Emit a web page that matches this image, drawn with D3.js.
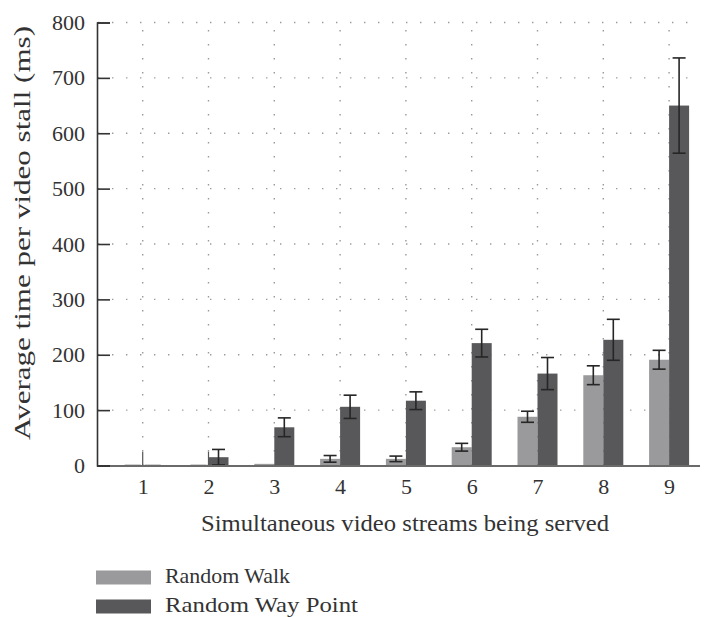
<!DOCTYPE html>
<html>
<head>
<meta charset="utf-8">
<script src="https://cdn.jsdelivr.net/npm/d3@7"></script>
<style>
  html, body { margin: 0; padding: 0; background: #fff; }
  svg { display: block; }
</style>
</head>
<body>
<svg id="chart" width="707" height="617"></svg>
<script>
// ---- data ----
const categories = ["1", "2", "3", "4", "5", "6", "7", "8", "9"];
const seriesNames = ["Random Walk", "Random Way Point"];
const randomWalk = [0, 0, 3, 12, 12, 33, 88, 163, 191];
const randomWalkErr = [0, 0, 0, 6, 5, 7, 10, 17, 17];
const randomWayPoint = [0, 15, 69, 106, 117, 221, 166, 227, 650];
const randomWayPointErr = [0, 14, 17, 21, 16, 25, 29, 37, 86];
const centerStubs = [25, 25, 0, 0, 0, 0, 0, 0, 0];
const yTicks = [0, 100, 200, 300, 400, 500, 600, 700, 800];
const xTitle = "Simultaneous video streams being served";
const yTitle = "Average time per video stall (ms)";

// ---- layout ----
const FONT = '"Liberation Serif"';
const svg = d3.select("#chart");
const pLeft = 97, pRight = 700, pTop = 22.5, pBottom = 465.5;
const x = d3.scalePoint().domain(categories).range([142.7, 669.1]);
const y = d3.scaleLinear().domain([0, 800]).range([pBottom, pTop]);
const barW = 20;
const colors = ["#9a9a9c", "#58585a"];

// gridlines
const grid = svg.append("g").attr("stroke", "#9a9a9a").attr("stroke-width", 1.4)
  .attr("stroke-dasharray", "1.4,12.6");
grid.selectAll(".hg").data(yTicks.filter(d => d > 0)).join("line")
  .attr("x1", pLeft + 1).attr("x2", pRight).attr("y1", d => y(d)).attr("y2", d => y(d));
grid.selectAll(".vg").data(categories).join("line")
  .attr("x1", d => x(d)).attr("x2", d => x(d)).attr("y1", pBottom).attr("y2", pTop + 7);

// center stubs
svg.append("g").selectAll("line").data(categories.map((c, i) => ({c, v: centerStubs[i]})).filter(d => d.v > 0))
  .join("line")
  .attr("x1", d => x(d.c)).attr("x2", d => x(d.c))
  .attr("y1", pBottom).attr("y2", d => y(d.v))
  .attr("stroke", "#555").attr("stroke-width", 1.2);

// bars
const series = [randomWalk, randomWayPoint];
const errs = [randomWalkErr, randomWayPointErr];
series.forEach((vals, s) => {
  const g = svg.append("g");
  const data = categories.map((c, i) => ({c, v: vals[i], e: errs[s][i]}));
  g.selectAll("rect").data(data).join("rect")
    .attr("x", d => x(d.c) + (s === 0 ? -barW : 0))
    .attr("width", barW)
    .attr("y", d => y(d.v))
    .attr("height", d => Math.max(0, y(0) - y(d.v)))
    .attr("fill", colors[s]);
  g.selectAll("line.z").data(data.filter(d => d.v === 0)).join("line")
    .attr("x1", d => x(d.c) + (s === 0 ? -barW : 0) + 2)
    .attr("x2", d => x(d.c) + (s === 0 ? 0 : barW) - 2)
    .attr("y1", pBottom).attr("y2", pBottom)
    .attr("stroke", "#444").attr("stroke-width", 1.5);
  const eb = g.selectAll("g.eb").data(data.filter(d => d.e > 0)).join("g")
    .attr("stroke", "#262626").attr("stroke-width", 1.6);
  const cx = d => x(d.c) + (s === 0 ? -barW / 2 : barW / 2);
  eb.append("line").attr("x1", cx).attr("x2", cx)
    .attr("y1", d => y(d.v + d.e)).attr("y2", d => y(Math.max(0, d.v - d.e)));
  eb.append("line").attr("x1", d => cx(d) - 6.5).attr("x2", d => cx(d) + 6.5)
    .attr("y1", d => y(d.v + d.e)).attr("y2", d => y(d.v + d.e));
  eb.append("line").attr("x1", d => cx(d) - 6.5).attr("x2", d => cx(d) + 6.5)
    .attr("y1", d => y(Math.max(0, d.v - d.e))).attr("y2", d => y(Math.max(0, d.v - d.e)));
});

// x axis line
svg.append("line").attr("x1", pLeft).attr("x2", pRight).attr("y1", pBottom + 0.5).attr("y2", pBottom + 0.5)
  .attr("stroke", "#6a6a6a").attr("stroke-width", 2);

// y axis
const yAxis = d3.axisLeft(y).tickValues(yTicks).tickSize(-13).tickPadding(12).tickFormat(d3.format("d"));
const ya = svg.append("g").attr("transform", `translate(${pLeft},0)`).call(yAxis);
ya.select(".domain").attr("stroke", "#333").attr("stroke-width", 1.6);
ya.selectAll(".tick line").attr("stroke", "#333").attr("stroke-width", 1.6);
ya.selectAll(".tick text").attr("font-size", 22).attr("fill", "#333").attr("x", -12)
  .style("font-family", FONT);

// x tick labels
const xAxis = d3.axisBottom(x).tickSize(0).tickPadding(13);
const xa = svg.append("g").attr("transform", `translate(0,${pBottom})`).call(xAxis);
xa.select(".domain").remove();
xa.selectAll(".tick text").attr("font-size", 22).attr("fill", "#333").style("font-family", FONT);

// axis titles
svg.append("text").attr("x", 405).attr("y", 531).attr("text-anchor", "middle")
  .attr("font-size", 23).attr("fill", "#333").style("font-family", FONT)
  .attr("textLength", 408).attr("lengthAdjust", "spacingAndGlyphs")
  .text(xTitle);
svg.append("text").attr("transform", "translate(30,233) rotate(-90)").attr("text-anchor", "middle")
  .attr("font-size", 23).attr("fill", "#333").style("font-family", FONT)
  .attr("textLength", 414).attr("lengthAdjust", "spacingAndGlyphs")
  .text(yTitle);

// legend
const legendLen = [125, 193];
const lg = svg.append("g");
seriesNames.forEach((n, i) => {
  const ly = 577 + i * 29;
  lg.append("rect").attr("x", 96).attr("y", ly - 6.5).attr("width", 55).attr("height", 14).attr("fill", colors[i]);
  lg.append("text").attr("x", 165).attr("y", ly + 6).attr("font-size", 22).attr("fill", "#333")
    .style("font-family", FONT)
    .attr("textLength", legendLen[i]).attr("lengthAdjust", "spacingAndGlyphs").text(n);
});
</script>
</body>
</html>
